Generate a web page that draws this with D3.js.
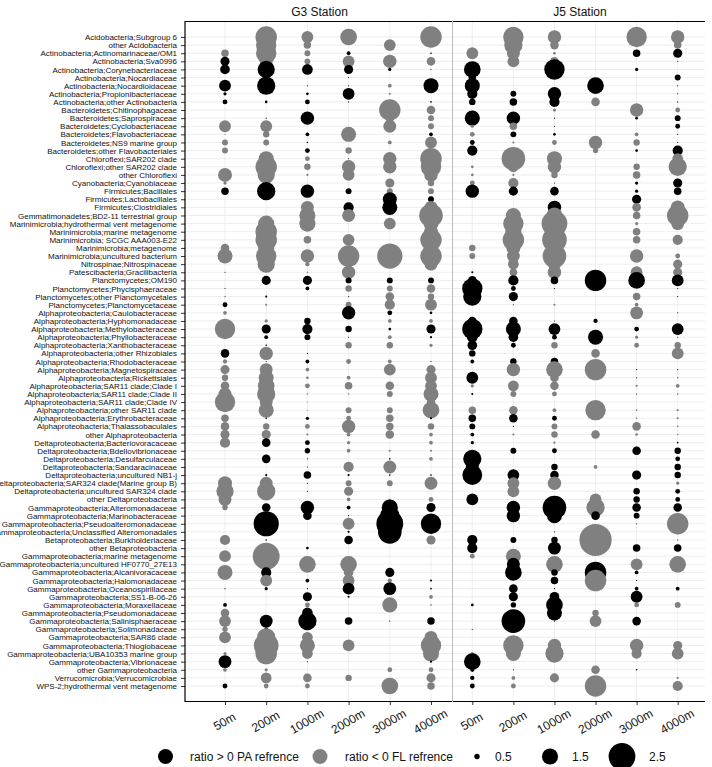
<!DOCTYPE html>
<html><head><meta charset="utf-8">
<script src="https://cdn.jsdelivr.net/npm/d3@7"></script>
<style>body{margin:0;background:#fff} svg{display:block} text{font-family:"Liberation Sans", Arial, sans-serif}</style>
</head><body><svg id="c" width="712" height="767"></svg>
<script>
const categories = [
"Acidobacteria;Subgroup 6","other Acidobacteria","Actinobacteria;Actinomarinaceae/OM1","Actinobacteria;Sva0996",
"Actinobacteria;Corynebacteriaceae","Actinobacteria;Nocardiaceae","Actinobacteria;Nocardioidaceae","Actinobacteria;Propionibacteriaceae",
"Actinobacteria;other Actinobacteria","Bacteroidetes;Chitinophagaceae","Bacteroidetes;Saprospiraceae","Bacteroidetes;Cyclobacteriaceae",
"Bacteroidetes;Flavobacteriaceae","Bacteroidetes;NS9 marine group","Bacteroidetes;other Flavobacteriales","Chloroflexi;SAR202 clade",
"Chloroflexi;other SAR202 clade ","other Chloroflexi","Cyanobacteria;Cyanobiaceae","Firmicutes;Bacillales","Firmicutes;Lactobacillales",
"Firmicutes;Clostridiales","Gemmatimonadetes;BD2-11 terrestrial group","Marinimicrobia;hydrothermal vent metagenome",
"Marinimicrobia;marine metagenome","Marinimicrobia; SCGC AAA003-E22","Marinimicrobia;metagenome","Marinimicrobia;uncultured bacterium",
"Nitrospinae;Nitrospinaceae","Patescibacteria;Gracilibacteria","Planctomycetes;OM190","Planctomycetes;Phycisphaeraceae",
"Planctomycetes;other Planctomycetales","Planctomycetes;Planctomycetaceae","Alphaproteobacteria;Caulobacteraceae",
"Alphaproteobacteria;Hyphomonadaceae","Alphaproteobacteria;Methylobacteraceae","Alphaproteobacteria;Phyllobacteraceae",
"Alphaproteobacteria;Xanthobacteraceae","Alphaproteobacteria;other Rhizobiales","Alphaproteobacteria;Rhodobacteraceae",
"Alphaproteobacteria;Magnetospiraceae","Alphaproteobacteria;Rickettsiales","Alphaproteobacteria;SAR11 clade;Clade I",
"Alphaproteobacteria;SAR11 clade;Clade II","Alphaproteobacteria;SAR11 clade;Clade IV","Alphaproteobacteria;other SAR11 clade",
"Alphaproteobacteria;Erythrobacteraceae","Alphaproteobacteria;Thalassobaculales","other Alphaproteobacteria",
"Deltaproteobacteria;Bacteriovoracaceae","Deltaproteobacteria;Bdellovibrionaceae","Deltaproteobacteria;Desulfarculaceae",
"Deltaproteobacteria;Sandaracinaceae","Deltaproteobacteria;uncultured NB1-j","Deltaproteobacteria;SAR324 clade(Marine group B)",
"Deltaproteobacteria;uncultured SAR324 clade","other Deltaproteobacteria","Gammaproteobacteria;Alteromonadaceae",
"Gammaproteobacteria;Marinobacteraceae","Gammaproteobacteria;Pseudoalteromonadaceae","Gammaproteobacteria;Unclassified Alteromonadales",
"Betaproteobacteria;Burkholderiaceae","other Betaproteobacteria","Gammaproteobacteria;marine metagenome",
"Gammaproteobacteria;uncultured HF0770_27E13","Gammaproteobacteria;Alcanivoracaceae","Gammaproteobacteria;Halomonadaceae",
"Gammaproteobacteria;Oceanospirillaceae","Gammaproteobacteria;SS1-B-06-26","Gammaproteobacteria;Moraxellaceae",
"Gammaproteobacteria;Pseudomonadaceae","Gammaproteobacteria;Salinisphaeraceae","Gammaproteobacteria;Solimonadaceae",
"Gammaproteobacteria;SAR86 clade","Gammaproteobacteria;Thioglobaceae","Gammaproteobacteria;UBA10353 marine group",
"Gammaproteobacteria;Vibrionaceae","other Gammaproteobacteria","Verrucomicrobia;Verrucomicrobiae","WPS-2;hydrothermal vent metagenome"
];
const depths = ["50m","200m","1000m","2000m","3000m","4000m"];
const stations = ["G3 Station","J5 Station"];

// signed ratio: >0 PA (black), <0 FL (grey); size = |ratio|
const g3_50m = [0,0,-0.7,0.85,0.9,0,1.1,0.3,0.45,0,0,-1.1,-0.1,-0.55,-0.55,0,0,-1.3,-0.3,0.7,0,
 0,0,0,0,0,-0.8,-1.4,0,0.1,0,0.1,-0.15,0.45,-0.35,0,-1.9,0,0,0.8,-0.4,-0.85,-0.6,
 -0.8,-1.2,-1.9,0,-0.7,-0.8,-0.85,-0.95,0,0,0,0,-1.3,-1.6,-1.2,-0.5,0,0,0,-0.95,0,-1.1,
 0,-1.4,0,0.1,0,0.35,-0.8,-1.1,-0.5,-1.1,0,-0.3,1.2,-0.35,0,0.45];
const g3_200m = [-2.0,-1.9,-1.9,-1.2,1.6,0,1.7,0,0.25,0,0.1,-1.1,-0.6,-0.55,0,-1.4,-2.0,-1.6,0,1.7,0,
 0,0,-1.5,-2.0,-2.0,-1.5,-1.9,-1.6,0,0.85,0,0.2,-0.2,0,-0.3,0.85,0.35,0.15,-1.25,0.1,-1.2,-1.4,
 -1.55,-1.7,-1.2,-1.4,0.15,-0.6,-0.85,0.8,0,0.8,0,0.2,-1.2,-1.7,0,0.8,0,2.35,0,0.15,0,-2.5,
 0,0.95,-1.1,0.3,0,0,0,1.2,0.35,-1.7,-2.3,-2.0,-0.2,-0.3,-1.0,-0.45];
const g3_1000m = [-1.1,-0.7,-0.55,-0.55,1.0,0,0.1,0.25,0.45,0,1.25,0,0.35,0.15,0.45,-0.45,-0.6,-0.2,0,1.25,0,
 -1.2,-1.5,-1.5,0,-0.7,0,-1.25,-0.4,-0.15,0.85,0.35,0,0,0,0.6,0.95,0.55,0,0.1,0.35,-0.35,-0.25,
 -0.45,-0.15,-0.1,-0.1,0.3,-0.45,-0.2,0.45,0.5,0.1,0.1,0.7,0.1,0.1,0,1.25,0.8,0,0,0,0.25,0,
 -1.55,0,0.35,0.1,0.85,-0.45,1.0,1.7,0,-1.0,-1.4,-1.0,0.1,0,-0.8,-0.45];
const g3_2000m = [-1.55,0,0.35,-1.1,0.85,0.1,0.1,1.1,0.1,0,0,0,-1.4,0,-0.6,0.1,-1.25,-1.1,0,0.55,0,
 0.95,-1.2,0,0,-1.1,0,-2.0,0,-1.25,0.55,-0.6,0.1,-0.55,1.25,0,0.6,0.1,-0.6,0,-0.45,0,-0.35,
 -0.7,-0.15,0,-0.55,-0.45,-1.25,-0.35,-0.3,-0.35,0,-0.95,0.2,-0.55,-0.85,-0.35,0.35,0.1,-1.1,0.2,0.8,0,0,
 -1.55,-0.9,-1.1,1.1,0.2,0,0,0.7,0,0,-1.1,0,0,0,-0.6,0];
const g3_3000m = [0,-1.1,0,-1.25,0.3,0,-0.35,-0.2,0,-2.0,-0.8,-1.2,0,-0.35,0,-1.25,-1.25,0,-0.85,-0.55,1.3,
 1.4,0,-1.1,0,0,0,-2.35,0,0,0.55,-0.55,-0.8,-0.95,0.45,-0.35,0.25,-0.35,-0.6,0,-0.35,-1.1,0,
 -0.8,-0.55,0,-0.55,-0.7,-0.7,-0.8,0,-0.2,0.15,-1.2,0.15,-0.55,0,-0.15,1.5,1.8,2.5,2.2,0,0,0,
 0,0.85,-0.4,1.2,0,-1.4,0,0.1,0,0,0,0,0,-0.45,0,-1.55];
const g3_4000m = [-2.0,0,0.15,-0.8,0.1,0,1.4,0,0.15,-0.8,-0.55,-0.55,0.35,-1.1,0,-2.0,-1.9,-1.25,-0.6,-0.55,0.55,
 -1.2,-2.2,-1.4,-1.3,-2.0,-1.2,-2.0,-1.2,0,0.55,-0.8,-0.6,-1.1,0.25,-0.35,0.85,0.2,-0.3,0,0.1,-0.85,-1.1,
 -1.1,-1.4,-0.8,-1.55,0.2,-0.6,-0.35,-0.35,-0.2,-0.35,0,0.15,-1.2,0,-0.45,0.85,0.1,1.9,0,-0.85,0,0,
 0,0,0.2,0.15,-0.35,0.1,0,0.7,0,-1.2,-1.9,-1.5,0.2,-0.45,-0.85,-0.7];
const j5_50m = [0,0,-1.1,0,1.55,0.7,1.4,0.95,0.6,0,1.4,-0.3,-0.45,0.45,0.95,0,-0.25,-0.25,-0.45,1.25,0,
 0,0,0,0,0,-0.6,-0.55,0,0.2,0.8,1.9,1.7,0,0,0.8,1.9,1.0,0.9,0.6,0.35,0,1.1,
 -0.3,0.2,0,-0.7,0.7,0.55,0.35,0.3,0,1.7,1.2,1.85,0.1,0,1.1,0,0,0,0,0.95,0.95,-0.45,
 0,0,0,0,0,0.25,0,0,0.1,0,0,-0.3,1.55,0.4,0.4,0.45];
const j5_200m = [-1.9,-1.7,-1.2,-1.1,0,0,0,0.55,0.7,0,1.25,-0.7,0.55,-0.2,0,-2.2,-1.0,-0.2,-0.95,0.85,0,
 0,-1.4,-1.9,-1.5,-2.0,-1.3,-1.2,-1.0,-0.7,0.95,0.45,0.85,0.1,0,0.8,1.4,0.9,0.45,0,0.6,-1.25,0,
 -1.0,-0.55,0,-0.8,0.8,0.1,-0.2,0,0.55,0,0,1.1,-1.1,-1.1,0,1.25,1.25,0,0,0.55,0,-1.4,
 1.2,1.55,0,0.8,0.85,0.5,0,2.2,0,0,-1.9,-1.4,0,0.1,-0.35,-0.45];
const j5_1000m = [-1.25,-0.8,-0.25,-0.8,1.9,0,0,1.25,0.95,-0.3,0.1,0.1,0.25,-0.45,0,-1.4,-1.25,-0.6,0.1,0.8,0,
 1.25,-1.5,-2.4,-1.8,-2.3,-1.6,-2.2,-1.2,-1.25,0.7,0.1,0,-0.2,0,0.1,1.1,0.45,-0.6,0,0.7,-1.55,-0.8,
 -0.8,-0.45,0,-0.35,0.45,-0.55,-0.6,-0.2,0.45,0,0.6,0.8,-1.25,0,0,2.2,1.4,0,0.1,0.6,1.2,0,
 -1.55,0.6,0.7,0.1,0.9,1.55,1.4,0.1,0,0,-1.25,-1.7,0,0,-0.85,0];
const j5_2000m = [0,0,0,0,0,0,1.55,0,-0.8,0,0,0,0,-1.25,-0.5,0,0,0,0,0,0,
 0,0,0,0,0,0,0,0,0,2.0,0,0,0,0,0.4,0,1.4,0,-0.8,0,-2.0,0,
 0,0,0,-1.9,0,0,-0.8,0,0,0,-0.35,0,0,0,-1.1,-1.7,0.8,0,0,-3.0,0,0,
 0,2.0,-2.0,0,0,0,-0.6,-1.1,0,0,0,0,0,-0.8,0,-2.0];
const j5_3000m = [-1.9,0,0.7,0,0.3,0,0,0,0,-1.25,0.25,0,-0.35,-0.6,0.25,0,-0.6,-0.7,0.3,0.3,0.85,
 -0.8,-0.7,-0.3,-0.7,-0.7,0,-1.25,0,-1.1,1.55,0,-0.7,-0.35,-1.2,0,0.45,-0.3,-0.45,0,0,0.1,0.1,
 -0.2,0.1,0,-0.15,-0.15,-0.8,-0.25,0,0.8,0,0,0.85,0,0.6,0.6,0.8,0.55,0.1,0,0,0.7,0,
 -1.1,0.35,0.1,0.35,1.1,-0.45,0,0.8,0,0,-1.25,-0.95,0,0.15,0,0];
const j5_4000m = [-1.25,-0.7,0.85,0.1,0,0.55,0.1,0.1,0.1,-0.45,0.55,0.45,0.1,0.1,0.95,-1.0,-1.7,0,0.85,0.7,0,
 -1.3,-2.0,-1.2,0,-0.95,0,-0.45,-0.85,-0.85,1.1,0.1,0.1,0,0.1,0,1.1,0.1,-0.6,-1.1,0,0.1,0.1,
 -0.35,0.1,0,-0.2,-0.2,-0.15,-0.15,0.15,0.6,0.45,0.6,0.6,-0.3,0.45,0.45,0.8,0,-2.0,0,0.1,0.7,0,
 -1.55,0,0,0.35,0,-0.55,0,0,0,0,-0.85,-1.1,0,0,-0.2,-0.95];

const colorLabels = ["ratio > 0 PA refrence","ratio < 0 FL refrence"];
const sizeBreaks = [0.5, 1.5, 2.5];

const svg = d3.select("#c");
const yTop = 21, yBot = 702;
const y = d3.scalePoint().domain(categories).range([37, 686]);
const r = d3.scaleLinear().domain([0, 3]).range([0, 16.1]);
const fill = v => v > 0 ? "#000000" : "#808080";

const panels = [
  {name: stations[0], x0: 185, x1: 452, x: d3.scalePoint().domain(depths).range([225, 431]),
   series: [g3_50m, g3_200m, g3_1000m, g3_2000m, g3_3000m, g3_4000m]},
  {name: stations[1], x0: 453, x1: 705, x: d3.scalePoint().domain(depths).range([472.3, 677.7]),
   series: [j5_50m, j5_200m, j5_1000m, j5_2000m, j5_3000m, j5_4000m]}
];

// gridlines
panels.forEach(p => {
  const g = svg.append("g");
  g.selectAll("line.h").data(categories).join("line")
    .attr("x1", p.x0).attr("x2", p.x1).attr("y1", d => y(d)).attr("y2", d => y(d))
    .attr("stroke", "#e8e8e8").attr("stroke-width", 0.8);
  g.selectAll("line.v").data(depths).join("line")
    .attr("x1", d => p.x(d)).attr("x2", d => p.x(d)).attr("y1", yTop).attr("y2", yBot)
    .attr("stroke", "#ebebeb").attr("stroke-width", 0.8);
});

// bubbles
panels.forEach(p => {
  const pts = [];
  categories.forEach((c, i) => depths.forEach((d, j) => {
    const v = p.series[j][i];
    if (v !== 0) pts.push({c, d, v});
  }));
  svg.append("g").selectAll("circle").data(pts).join("circle")
    .attr("cx", d => p.x(d.d)).attr("cy", d => y(d.c))
    .attr("r", d => r(Math.abs(d.v))).attr("fill", d => fill(d.v));
});

// y axis
const ya = svg.append("g").attr("transform", "translate(185,0)")
  .call(d3.axisLeft(y).tickSize(4).tickPadding(4));
ya.select(".domain").remove();
ya.selectAll("line").attr("stroke", "#333");
ya.selectAll("text").attr("font-size", 8).attr("fill", "#111")
  .attr("font-family", "'Liberation Sans', Arial, sans-serif");

// x axes
panels.forEach(p => {
  const xa = svg.append("g").attr("transform", `translate(0,${yBot})`)
    .call(d3.axisBottom(p.x).tickSize(3));
  xa.select(".domain").remove();
  xa.selectAll("line").attr("stroke", "#333");
  xa.selectAll("text").attr("font-size", 12).attr("fill", "#111")
    .attr("font-family", "'Liberation Sans', Arial, sans-serif")
    .attr("text-anchor", "middle").attr("dy", null).attr("y", 0)
    .attr("dominant-baseline", "central")
    .attr("transform", "translate(-1,19.5) rotate(-30)");
  // strip
  svg.append("text").attr("x", (p.x0 + p.x1) / 2 + 1).attr("y", 12)
    .attr("text-anchor", "middle").attr("dominant-baseline", "central")
    .attr("font-size", 12).attr("fill", "#111").text(p.name);
});

// frame lines
svg.append("line").attr("x1", 185).attr("x2", 705).attr("y1", yTop + 0.5).attr("y2", yTop + 0.5).attr("stroke", "#000").attr("stroke-width", 1.2);
svg.append("line").attr("x1", 185).attr("x2", 705).attr("y1", yBot - 0.5).attr("y2", yBot - 0.5).attr("stroke", "#000").attr("stroke-width", 1.2);
svg.append("line").attr("x1", 185).attr("x2", 185).attr("y1", yTop).attr("y2", yBot).attr("stroke", "#000").attr("stroke-width", 1.2);
svg.append("line").attr("x1", 452.5).attr("x2", 452.5).attr("y1", yTop).attr("y2", yBot).attr("stroke", "#bdbdbd").attr("stroke-width", 1);

// legend
const ly = 756.5;
const lg = svg.append("g");
[[165.5, 190, "#000000", colorLabels[0]], [320, 345, "#808080", colorLabels[1]]].forEach(([cx, tx, col, lab]) => {
  lg.append("circle").attr("cx", cx).attr("cy", ly).attr("r", 7.5).attr("fill", col);
  lg.append("text").attr("x", tx).attr("y", ly).attr("dominant-baseline", "central")
    .attr("font-size", 12).attr("fill", "#111").text(lab);
});
const sx = [477, 550, 622], stx = [495, 572, 649];
sizeBreaks.forEach((b, i) => {
  lg.append("circle").attr("cx", sx[i]).attr("cy", ly).attr("r", r(b)).attr("fill", "#000");
  lg.append("text").attr("x", stx[i]).attr("y", ly).attr("dominant-baseline", "central")
    .attr("font-size", 12).attr("fill", "#111").text(b);
});
</script></body></html>
